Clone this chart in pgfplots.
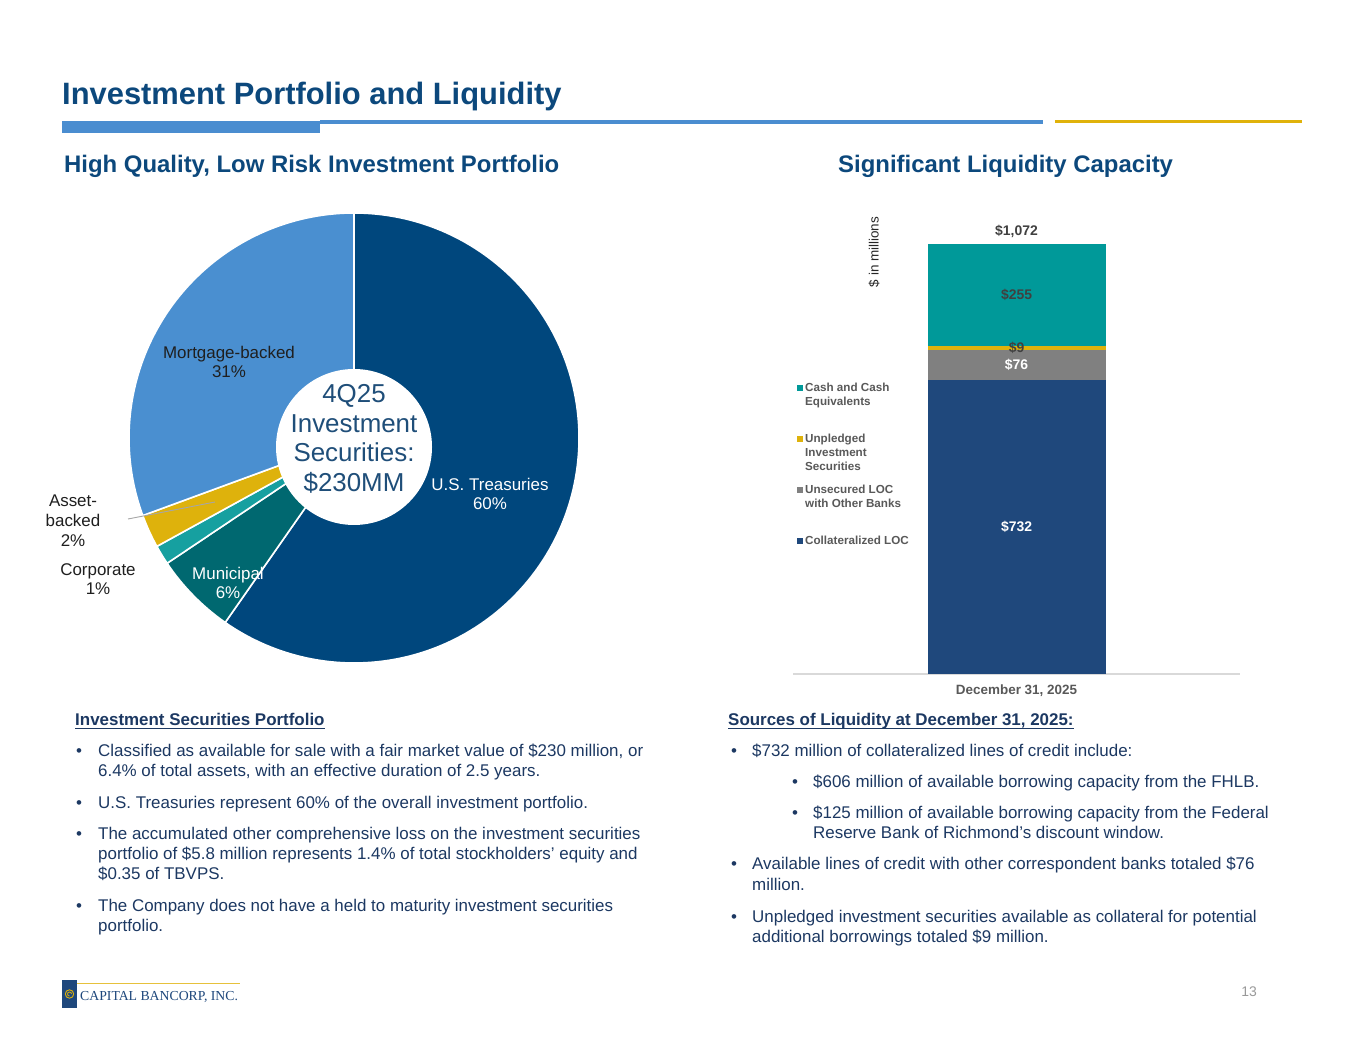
\documentclass[border=0pt]{standalone}
\usepackage{pgfplots}
\pgfplotsset{compat=1.18}
\usepackage{fontspec}
\setmainfont{Liberation Sans}
\newfontfamily\seriffont{Liberation Serif}
\definecolor{titleblue}{RGB}{12,72,124}
\definecolor{bodyblue}{RGB}{28,56,98}
\definecolor{ruleblue}{RGB}{74,141,208}
\definecolor{gold}{RGB}{224,178,10}
\definecolor{treas}{RGB}{0,71,125}
\definecolor{mbs}{RGB}{74,143,208}
\definecolor{muni}{RGB}{0,104,112}
\definecolor{corp}{RGB}{22,160,160}
\definecolor{abs}{RGB}{222,178,12}
\definecolor{centertext}{RGB}{31,78,121}
\definecolor{barblue}{RGB}{31,72,124}
\definecolor{bargray}{RGB}{128,128,128}
\definecolor{bargold}{RGB}{222,178,12}
\definecolor{barteal}{RGB}{0,153,153}
\definecolor{labgray}{RGB}{64,64,64}
\definecolor{leggray}{RGB}{89,89,89}
\newcommand\bodyfont{\fontsize{17}{20}\selectfont}
\newcommand\bl[3]{\node[anchor=base west, inner sep=0pt, font=\bodyfont, text=bodyblue] at (#1,1055-#2) {#3};}
\newcommand\lgt[3]{\node[anchor=base west, inner sep=0pt, font=\fontsize{11.7}{13.8}\selectfont\bfseries, text=leggray] at (#1,1055-#2) {#3};}
\begin{document}
\begin{tikzpicture}[x=1bp,y=1bp]
\path[fill=white] (0,0) rectangle (1365,1055);
% title and rules
\node[anchor=base west, inner sep=0pt, font=\fontsize{31}{37}\selectfont\bfseries, text=titleblue] at (62,1055-105) {Investment Portfolio and Liquidity};
\fill[ruleblue] (62,1055-121) rectangle (320,1055-133);
\fill[ruleblue] (320,1055-120.5) rectangle (1043,1055-124);
\fill[gold] (1055,1055-120) rectangle (1302,1055-123.5);
\node[anchor=base west, inner sep=0pt, font=\fontsize{24}{28}\selectfont\bfseries, text=titleblue] at (64,1055-173) {High Quality, Low Risk Investment Portfolio};
\node[anchor=base west, inner sep=0pt, font=\fontsize{24}{28}\selectfont\bfseries, text=titleblue] at (838,1055-173) {Significant Liquidity Capacity};

% pie chart
\begin{axis}[at={(354bp,617bp)}, anchor=center, scale only axis, width=450bp, height=450bp,
  xmin=-1, xmax=1, ymin=-1, ymax=1, hide axis, clip=false]
\fill[treas, draw=white, line width=1.6bp, line join=round] (0,0) -- ({cos(90)},{sin(90)}) arc[start angle=90, end angle={90-3.6*(59.7)}, radius=225bp] -- cycle;
\fill[muni, draw=white, line width=1.6bp, line join=round] (0,0) -- ({cos(90-3.6*(59.7))},{sin(90-3.6*(59.7))}) arc[start angle={90-3.6*(59.7)}, end angle={90-3.6*(59.7+5.9)}, radius=225bp] -- cycle;
\fill[corp, draw=white, line width=1.6bp, line join=round] (0,0) -- ({cos(90-3.6*(65.6))},{sin(90-3.6*(65.6))}) arc[start angle={90-3.6*(65.6)}, end angle={90-3.6*(65.6+1.4)}, radius=225bp] -- cycle;
\fill[abs, draw=white, line width=1.6bp, line join=round] (0,0) -- ({cos(90-3.6*(67.0))},{sin(90-3.6*(67.0))}) arc[start angle={90-3.6*(67.0)}, end angle={90-3.6*(67.0+2.4)}, radius=225bp] -- cycle;
\fill[mbs, draw=white, line width=1.6bp, line join=round] (0,0) -- ({cos(90-3.6*(69.4))},{sin(90-3.6*(69.4))}) arc[start angle={90-3.6*(69.4)}, end angle={90-3.6*(69.4+30.6)}, radius=225bp] -- cycle;
\fill[white] (0,-0.04) circle[radius=78bp];
\node[align=center, inner sep=0pt, font=\fontsize{26}{29.5}\selectfont, text=centertext] at (0,-0.004) {4Q25\\Investment\\Securities:\\\$230MM};
\end{axis}
\draw[gray!70, line width=0.9bp] (128,1055-519) -- (215,1055-502);
\node[align=center, inner sep=0pt, font=\fontsize{17}{19.5}\selectfont, text=black!88] at (229,1055-362) {Mortgage-backed\\31\%};
\node[align=center, inner sep=0pt, font=\fontsize{17}{19.5}\selectfont, text=white] at (490,1055-494) {U.S. Treasuries\\60\%};
\node[align=center, inner sep=0pt, font=\fontsize{17}{19.5}\selectfont, text=white] at (228,1055-583) {Municipal\\6\%};
\node[align=center, inner sep=0pt, font=\fontsize{17}{20}\selectfont, text=black!88] at (73,1055-521) {Asset-\\backed\\2\%};
\node[align=center, inner sep=0pt, font=\fontsize{17}{19.5}\selectfont, text=black!88] at (98,1055-579) {Corporate\\1\%};

% bar chart
\begin{axis}[at={(793bp,381bp)}, anchor=south west, scale only axis, width=447bp, height=430bp,
  xmin=-0.5, xmax=0.5, ymin=0, ymax=1072, ybar stacked, bar width=178bp,
  axis x line=bottom, hide y axis, axis line style={draw=black!15, line width=1.2bp, -},
  xtick={0}, xticklabels={December 31{,} 2025}, major tick length=0pt,
  xticklabel style={font=\fontsize{13.5}{16}\selectfont\bfseries, text=leggray, inner sep=0pt, anchor=base, yshift=-21bp},
  clip=false]
\addplot[fill=barblue, draw=none] coordinates {(0,732)};
\addplot[fill=bargray, draw=none] coordinates {(0,76)};
\addplot[fill=bargold, draw=none] coordinates {(0,9)};
\addplot[fill=barteal, draw=none] coordinates {(0,255)};
\coordinate (L1) at (axis cs:0,366);
\coordinate (L2) at (axis cs:0,770);
\coordinate (L3) at (axis cs:0,812.5);
\coordinate (L4) at (axis cs:0,944.5);
\coordinate (L5) at (axis cs:0,1104);
\end{axis}
\node[font=\fontsize{14}{16}\selectfont\bfseries, text=white, inner sep=0pt] at (L1) {\$732};
\node[font=\fontsize{14}{16}\selectfont\bfseries, text=white, inner sep=0pt] at (L2) {\$76};
\node[font=\fontsize{14}{16}\selectfont\bfseries, text=labgray, inner sep=0pt] at (L3) {\$9};
\node[font=\fontsize{14}{16}\selectfont\bfseries, text=labgray, inner sep=0pt] at (L4) {\$255};
\node[font=\fontsize{14}{16}\selectfont\bfseries, text=labgray, inner sep=0pt] at (L5) {\$1,072};
% legend
\fill[barteal] (797,1055-385) rectangle (803,1055-391);
\lgt{805}{392}{Cash and Cash}\lgt{805}{406}{Equivalents}
\fill[bargold] (797,1055-436) rectangle (803,1055-442);
\lgt{805}{443}{Unpledged}\lgt{805}{457}{Investment}\lgt{805}{470.5}{Securities}
\fill[bargray] (797,1055-487) rectangle (803,1055-493);
\lgt{805}{494}{Unsecured LOC}\lgt{805}{508}{with Other Banks}
\fill[barblue] (797,1055-538) rectangle (803,1055-544);
\lgt{805}{545}{Collateralized LOC}
\node[rotate=90, inner sep=0pt, font=\fontsize{13.5}{16}\selectfont, text=black!85] at (874,1055-252) {\$ in millions};

% bottom text left
\node[anchor=base west, inner sep=0pt, font=\bodyfont\bfseries, text=bodyblue] (h1) at (75,1055-725) {Investment Securities Portfolio};
\draw[bodyblue, line width=1.2bp] ([yshift=-3.5bp]h1.base west) -- ([yshift=-3.5bp]h1.base east);
\bl{76}{756}{•}\bl{98}{756}{Classified as available for sale with a fair market value of \$230 million, or}
\bl{98}{776}{6.4\% of total assets, with an effective duration of 2.5 years.}
\bl{76}{808}{•}\bl{98}{808}{U.S. Treasuries represent 60\% of the overall investment portfolio.}
\bl{76}{839}{•}\bl{98}{839}{The accumulated other comprehensive loss on the investment securities}
\bl{98}{859}{portfolio of \$5.8 million represents 1.4\% of total stockholders’ equity and}
\bl{98}{879}{\$0.35 of TBVPS.}
\bl{76}{911}{•}\bl{98}{911}{The Company does not have a held to maturity investment securities}
\bl{98}{931}{portfolio.}

% bottom text right
\node[anchor=base west, inner sep=0pt, font=\bodyfont\bfseries, text=bodyblue] (h2) at (728,1055-725) {Sources of Liquidity at December 31, 2025:};
\draw[bodyblue, line width=1.2bp] ([yshift=-3.5bp]h2.base west) -- ([yshift=-3.5bp]h2.base east);
\bl{731}{756}{•}\bl{752}{756}{\$732 million of collateralized lines of credit include:}
\bl{792}{787}{•}\bl{813}{787}{\$606 million of available borrowing capacity from the FHLB.}
\bl{792}{818}{•}\bl{813}{818}{\$125 million of available borrowing capacity from the Federal}
\bl{813}{838}{Reserve Bank of Richmond’s discount window.}
\bl{731}{869}{•}\bl{752}{869}{Available lines of credit with other correspondent banks totaled \$76}
\bl{752}{890}{million.}
\bl{731}{922}{•}\bl{752}{922}{Unpledged investment securities available as collateral for potential}
\bl{752}{942}{additional borrowings totaled \$9 million.}

% footer
\fill[barblue] (62,1055-980) rectangle (77,1055-1008);
\draw[gold, line width=0.9bp] (69.5,1055-994) circle[radius=4.2bp];
\draw[gold, line width=0.8bp] (69.5,1055-994) ++(0:2bp) arc[start angle=0, end angle=270, radius=2bp];
\draw[gold!80, line width=0.8bp] (77,1055-983.5) -- (240,1055-983.5);
\node[anchor=base west, inner sep=0pt, font=\seriffont\fontsize{13.8}{16}\selectfont, text=barblue] at (80,1055-1000) {CAPITAL BANCORP, INC.};
\node[inner sep=0pt, font=\fontsize{14}{16}\selectfont, text=black!40] at (1249,1055-992) {13};
\end{tikzpicture}
\end{document}
